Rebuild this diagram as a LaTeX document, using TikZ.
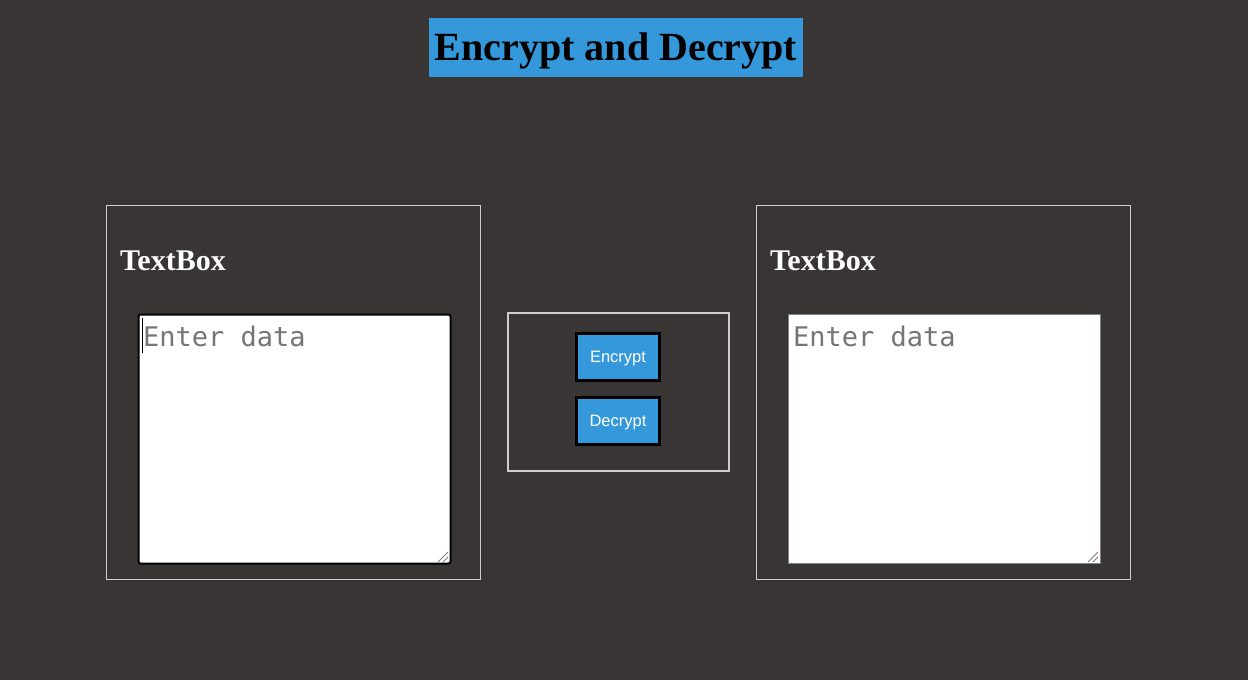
\documentclass[tikz,border=0pt]{standalone}
\usepackage{fontspec}
\setmainfont{Liberation Serif}
\newfontfamily\btnfont{Liberation Sans}
\newfontfamily\holderfont{DejaVu Sans Mono}
\usetikzlibrary{positioning}
\definecolor{pagebg}{RGB}{57,53,52}
\definecolor{titleblue}{RGB}{52,152,219}
\definecolor{framegray}{RGB}{205,205,205}
\definecolor{holdergray}{RGB}{117,117,117}
\tikzset{
  panel/.style={draw=framegray,line width=1pt,inner sep=0pt,minimum width=374pt,minimum height=374pt},
  heading/.style={anchor=base west,inner sep=0pt,text=white,font=\fontsize{30}{36}\selectfont\bfseries},
  textarea/.style={fill=white,inner sep=0pt,minimum width=312pt,minimum height=249pt},
  holder/.style={anchor=base west,inner sep=0pt,text=holdergray,font=\holderfont\fontsize{27}{32}\selectfont},
  button/.style={fill=titleblue,draw=black,line width=3pt,inner sep=0pt,minimum width=83pt,
    text height=28.5pt,text depth=18.5pt,text=white,font=\btnfont\fontsize{16.5}{20}\selectfont},
  grip/.style={draw=gray,line width=1pt}
}
\begin{document}
\begin{tikzpicture}[x=1pt,y=-1pt]
\fill[pagebg] (0,0) rectangle (1248,680);
\useasboundingbox (0,0) rectangle (1248,680);
% title
\node[fill=titleblue,inner sep=0pt,minimum width=374pt,text height=42pt,text depth=17pt,
  font=\fontsize{40}{48}\selectfont\bfseries] (title) at (616,47.5) {Encrypt and Decrypt};
% left side
\node[panel] (leftpanel) at (293.5,392.5) {};
\node[heading] (lefthead) at (120,270) {TextBox};
\node[textarea,draw=black,line width=2pt,rounded corners=2pt] (leftarea) at (294.5,439) {};
\node[holder] (lefttext) at (143,346) {Enter data};
\draw[black,line width=1pt] (142.5,318) -- (142.5,353);
\draw[grip] (438,562) -- (448,552);
\draw[grip] (443,562) -- (448,557);
% middle
\node[draw=framegray,line width=2pt,inner sep=0pt,minimum width=221pt,minimum height=158pt] (midpanel) at (618.5,392) {};
\node[button] (encbtn) at (618,357) {Encrypt};
\node[button] (decbtn) at (618,421) {Decrypt};
% right side
\node[panel] (rightpanel) at (943.5,392.5) {};
\node[heading] (righthead) at (770,270) {TextBox};
\node[textarea,draw=gray,line width=1pt] (rightarea) at (944.5,439) {};
\node[holder] (righttext) at (793,346) {Enter data};
\draw[grip] (1088,562) -- (1098,552);
\draw[grip] (1093,562) -- (1098,557);
\end{tikzpicture}
\end{document}
